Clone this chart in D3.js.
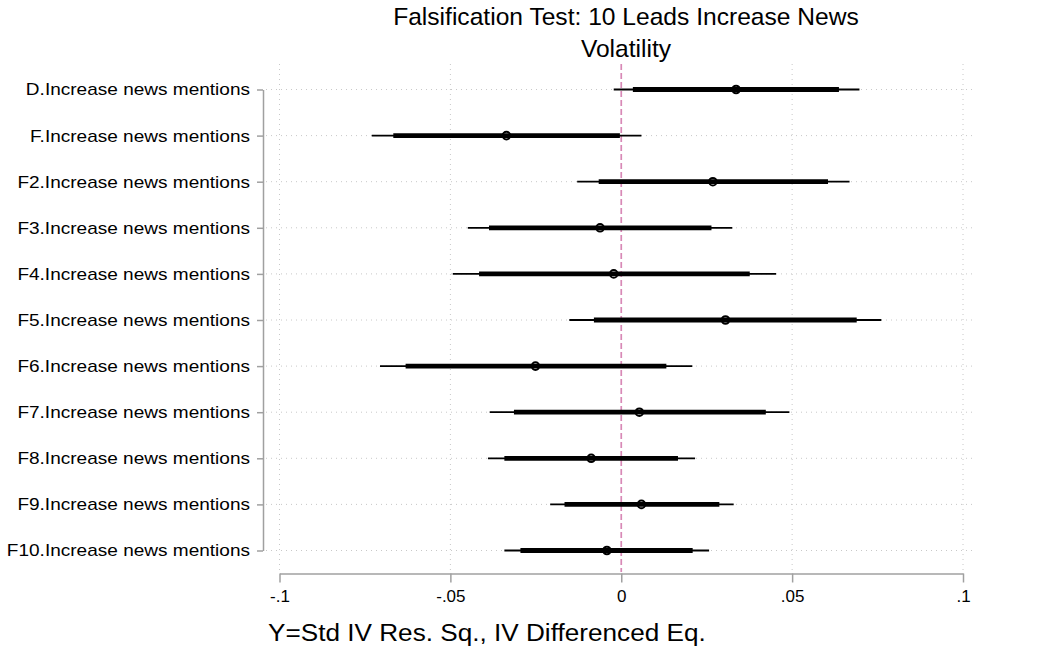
<!DOCTYPE html>
<html><head><meta charset="utf-8">
<script src="https://cdn.jsdelivr.net/npm/d3@7"></script>
<style>body{margin:0;background:#fff}svg{font-family:"Liberation Sans",Arial,sans-serif}</style>
</head><body><svg id="c" width="1052" height="646"></svg>
<script>
const categories = ["D.Increase news mentions","F.Increase news mentions","F2.Increase news mentions","F3.Increase news mentions","F4.Increase news mentions","F5.Increase news mentions","F6.Increase news mentions","F7.Increase news mentions","F8.Increase news mentions","F9.Increase news mentions","F10.Increase news mentions"];
const estimates = [0.0336, -0.0336, 0.0268, -0.0062, -0.0022, 0.0305, -0.0251, 0.0053, -0.0088, 0.0059, -0.0042];
const ci90Low  = [0.0034, -0.0667, -0.0066, -0.0387, -0.0416, -0.0080, -0.0631, -0.0314, -0.0342, -0.0166, -0.0295];
const ci90High = [0.0637, -0.0004, 0.0605, 0.0264, 0.0376, 0.0689, 0.0132, 0.0423, 0.0166, 0.0287, 0.0209];
const ci95Low  = [-0.0022, -0.0730, -0.0129, -0.0449, -0.0493, -0.0152, -0.0706, -0.0385, -0.0390, -0.0208, -0.0342];
const ci95High = [0.0697, 0.0059, 0.0668, 0.0325, 0.0453, 0.0761, 0.0208, 0.0492, 0.0216, 0.0329, 0.0257];
const xTicks = [-0.1, -0.05, 0, 0.05, 0.1];
const xTickLabels = ["-.1", "-.05", "0", ".05", ".1"];
const titleLines = ["Falsification Test: 10 Leads Increase News", "Volatility"];
const xTitle = "Y=Std IV Res. Sq., IV Differenced Eq.";

const svg = d3.select("#c");
const x = d3.scaleLinear().domain([-0.1, 0.1]).range([279.5, 963]);
const y = d3.scalePoint().domain(categories).range([89.5, 550.5]);

// gridlines
const g = svg.append("g");
g.selectAll(".vg").data(xTicks.filter(d => d !== 0)).join("line")
  .attr("x1", d => x(d)).attr("x2", d => x(d)).attr("y1", 64).attr("y2", 572)
  .attr("stroke", "#c8c8c8").attr("stroke-width", 1).attr("stroke-dasharray", "1,4");
g.selectAll(".hg").data(categories).join("line")
  .attr("x1", 266).attr("x2", 975).attr("y1", d => y(d)).attr("y2", d => y(d))
  .attr("stroke", "#c8c8c8").attr("stroke-width", 1).attr("stroke-dasharray", "1,4");

// zero line
svg.append("line").attr("x1", x(0)).attr("x2", x(0)).attr("y1", 64).attr("y2", 572)
  .attr("stroke", "#d889b6").attr("stroke-width", 1.7).attr("stroke-dasharray", "6,3");

// y axis
const yAxis = svg.append("g").attr("transform", "translate(263,0)")
  .call(d3.axisLeft(y).tickSize(6).tickSizeOuter(0).tickPadding(6));
yAxis.select(".domain").attr("stroke", "#a0a0a0").attr("stroke-width", 1.5);
yAxis.selectAll(".tick line").attr("stroke", "#a0a0a0").attr("stroke-width", 1.5);
yAxis.selectAll(".tick text").attr("font-size", 17).attr("fill", "#000")
  .attr("font-family", "Liberation Sans, Arial, sans-serif")
  .attr("x", 0).attr("transform", "translate(-13,0) scale(1.12,1)");

// x axis
const xAxis = svg.append("g").attr("transform", "translate(0,573.5)")
  .call(d3.axisBottom(x).tickValues(xTicks).tickFormat((d, i) => xTickLabels[i]).tickSize(9).tickSizeOuter(0).tickPadding(7));
xAxis.select(".domain").attr("stroke", "#a0a0a0").attr("stroke-width", 1.5);
xAxis.selectAll(".tick line").attr("stroke", "#a0a0a0").attr("stroke-width", 1.5);
xAxis.selectAll(".tick text").attr("font-size", 17).attr("fill", "#000")
  .attr("font-family", "Liberation Sans, Arial, sans-serif");

// CIs
const rows = categories.map((c, i) => ({c, e: estimates[i], l90: ci90Low[i], h90: ci90High[i], l95: ci95Low[i], h95: ci95High[i]}));
svg.append("g").selectAll("line").data(rows).join("line")
  .attr("x1", d => x(d.l95)).attr("x2", d => x(d.h95)).attr("y1", d => y(d.c)).attr("y2", d => y(d.c))
  .attr("stroke", "#000").attr("stroke-width", 1.8);
svg.append("g").selectAll("line").data(rows).join("line")
  .attr("x1", d => x(d.l90)).attr("x2", d => x(d.h90)).attr("y1", d => y(d.c)).attr("y2", d => y(d.c))
  .attr("stroke", "#000").attr("stroke-width", 4.8);
svg.append("g").selectAll("circle").data(rows).join("circle")
  .attr("cx", d => x(d.e)).attr("cy", d => y(d.c)).attr("r", 3.8)
  .attr("fill", "none").attr("stroke", "#000").attr("stroke-width", 2);

// titles
svg.append("g").selectAll("text").data(titleLines).join("text")
  .attr("x", 626).attr("y", (d, i) => 25 + i * 32).attr("text-anchor", "middle")
  .attr("font-size", 24.6).attr("fill", "#000").text(d => d);
svg.append("text").attr("transform", "translate(268,641) scale(1.09,1)")
  .attr("font-size", 24).attr("fill", "#000").text(xTitle);
</script></body></html>
